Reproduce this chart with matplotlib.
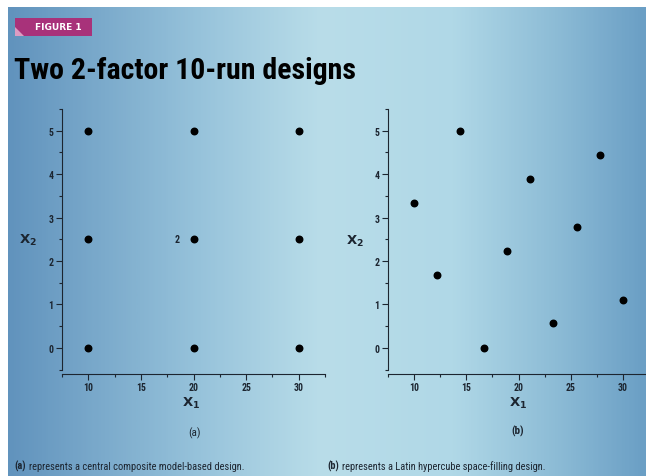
import matplotlib
matplotlib.use('Agg')
import matplotlib.pyplot as plt
import numpy as np
from matplotlib import font_manager as fm
from matplotlib.colors import LinearSegmentedColormap
from matplotlib.patches import Rectangle, Polygon

# (a) central composite design, 3x3 grid, center run replicated
ccd_x1 = [10, 20, 30, 10, 20, 30, 10, 20, 30]
ccd_x2 = [0, 0, 0, 2.5, 2.5, 2.5, 5, 5, 5]
replicate_label = "2"

# (b) latin hypercube design
lhs_x1 = [10, 12.2, 14.4, 16.7, 18.9, 21.1, 23.3, 25.6, 27.8, 30]
lhs_x2 = [3.33, 1.67, 5.0, 0.0, 2.22, 3.89, 0.56, 2.78, 4.44, 1.11]

x_ticks = [10, 15, 20, 25, 30]
y_ticks = [0, 1, 2, 3, 4, 5]

title = "Two 2-factor 10-run designs"
caption_a = "represents a central composite model-based design."
caption_b = "represents a Latin hypercube space-filling design."


def pick(names):
    for n in names:
        try:
            fm.findfont(fm.FontProperties(family=n), fallback_to_default=False)
            return n
        except ValueError:
            pass
    return 'DejaVu Sans'


narrow = pick(['Liberation Sans Narrow', 'Roboto Condensed', 'Open Sans Condensed',
               'Liberation Sans'])
plt.rcParams['font.family'] = [narrow, 'DejaVu Sans']

W, H = 646, 477
fig = plt.figure(figsize=(W / 100, H / 100), dpi=100, facecolor='white')


def fx(x):
    return x / W


def fy(y):
    return 1 - y / H


# gradient background
bg = fig.add_axes([fx(8), 0, 1 - fx(8), fy(8)], zorder=-10)
stops = [(0.0, '#6193bd'), (0.30, '#97c3db'), (0.49, '#b9dde9'),
         (0.70, '#b0d8e7'), (0.86, '#8dbcd6'), (1.0, '#6b9fc5')]
cmap = LinearSegmentedColormap.from_list('bg', stops)
grad = np.linspace(0, 1, 400).reshape(1, -1)
bg.imshow(grad, cmap=cmap, aspect='auto', extent=[0, 1, 0, 1])
bg.set_axis_off()

# figure tag
fig.patches.append(Rectangle((fx(15), fy(37)), fx(92) - fx(15), fy(19) - fy(37),
                             transform=fig.transFigure, facecolor='#a8327a',
                             edgecolor='none'))
fig.patches.append(Polygon([(fx(15), fy(37)), (fx(15), fy(28)), (fx(24), fy(37))],
                           closed=True, transform=fig.transFigure,
                           facecolor='#dc9cc2', edgecolor='none'))
fig.text(fx(58), fy(28), "FIGURE 1", color='white', fontsize=6.5,
         fontweight='bold', family='DejaVu Sans', ha='center', va='center')

fig.text(fx(14), fy(79), title, fontsize=21.5, fontweight='bold', color='black',
         ha='left', va='baseline')

ink = '#1c2530'


def style(ax):
    ax.set_facecolor('none')
    ax.set_xlim(7.5, 32.5)
    ax.set_ylim(-0.5, 5.5)
    ax.set_xticks(x_ticks)
    ax.set_yticks(y_ticks)
    ax.set_xticks(np.arange(7.5, 33, 2.5), minor=True)
    ax.set_yticks(np.arange(-0.5, 5.6, 0.5), minor=True)
    for s in ['top', 'right']:
        ax.spines[s].set_visible(False)
    for s in ['left', 'bottom']:
        ax.spines[s].set_color(ink)
        ax.spines[s].set_linewidth(0.8)
    ax.spines['bottom'].set_position(('outward', 3))
    ax.tick_params(which='major', length=4, width=0.8, color=ink, labelsize=7,
                   labelcolor=ink, pad=2)
    ax.tick_params(which='minor', length=2.5, width=0.8, color=ink)
    for lab in ax.get_xticklabels() + ax.get_yticklabels():
        lab.set_fontweight('bold')
    ax.set_xlabel(r'$\mathbf{X_1}$', fontsize=9.5, color=ink, va='center')
    ax.set_ylabel(r'$\mathbf{X_2}$', fontsize=9.5, color=ink, rotation=0,
                  va='center', ha='center')


axL = fig.add_axes([fx(62), fy(370.5), fx(325) - fx(62), fy(110) - fy(370.5)])
axR = fig.add_axes([fx(388), fy(370.5), fx(649) - fx(388), fy(110) - fy(370.5)])

for ax in (axL, axR):
    style(ax)

axL.scatter(ccd_x1, ccd_x2, s=22, color='black', zorder=3, clip_on=False)
axL.annotate(replicate_label, (20, 2.5), xytext=(-12, 0), textcoords='offset points',
             ha='center', va='center', fontsize=7, fontweight='bold', color=ink)
axR.scatter(lhs_x1, lhs_x2, s=22, color='black', zorder=3, clip_on=False)

axL.xaxis.set_label_coords(0.49, -0.125)
axL.yaxis.set_label_coords(-0.129, 0.50)
axR.xaxis.set_label_coords(0.498, -0.125)
axR.yaxis.set_label_coords(-0.126, 0.497)

axL.text(0.502, -0.239, "(a)", transform=axL.transAxes, ha='center', va='center',
         fontsize=8, color=ink)
axR.text(0.498, -0.235, "(b)", transform=axR.transAxes, ha='center', va='center',
         fontsize=8, fontweight='bold', color=ink)

# captions
fig.text(fx(14), fy(470), "(a)", fontsize=7.5, fontweight='bold', color=ink,
         ha='left', va='baseline')
fig.text(fx(29), fy(470), caption_a, fontsize=7.5, color=ink, ha='left', va='baseline')
fig.text(fx(327), fy(470), "(b)", fontsize=7.5, fontweight='bold', color=ink,
         ha='left', va='baseline')
fig.text(fx(342), fy(470), caption_b, fontsize=7.5, color=ink, ha='left', va='baseline')

fig.savefig('out.png', dpi=100, facecolor='white')
